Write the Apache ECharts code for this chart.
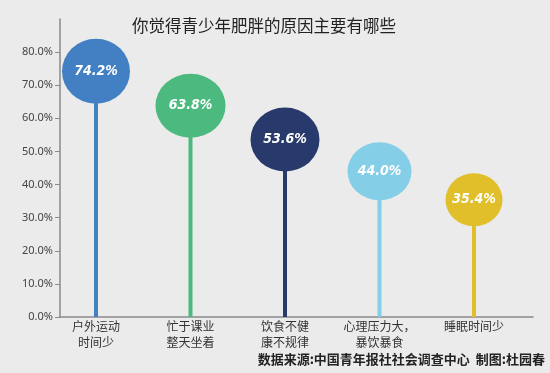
<!DOCTYPE html>
<html><head><meta charset="utf-8">
<script src="https://cdn.jsdelivr.net/npm/echarts@6/dist/echarts.min.js"></script>
<style>html,body{margin:0;padding:0;background:#ebebeb}#c{width:550px;height:373px}</style>
</head><body><div id="c"></div>
<script>
const categories = ['户外运动\n时间少', '忙于课业\n整天坐着', '饮食不健\n康不规律', '心理压力大，\n暴饮暴食', '睡眠时间少'];
const values = [74.2, 63.8, 53.6, 44.0, 35.4];
const yTicks = [0, 10, 20, 30, 40, 50, 60, 70, 80];
const titleText = '你觉得青少年肥胖的原因主要有哪些';
const sourceText = '数据来源:中国青年报社社会调查中心  制图:杜园春';

const colors = ['#4280c3', '#4cb97e', '#283a6b', '#84cee7', '#e0bf2a'];
const bubbleSizes = [[68, 65], [70, 64], [69, 64], [64, 58], [57, 53]];

const chart = echarts.init(document.getElementById('c'));
chart.setOption({
  backgroundColor: '#ebebeb',
  animation: false,
  title: [{
    text: titleText, left: 259, top: 12, textAlign: 'center',
    textStyle: {fontFamily: 'Noto Sans CJK SC', fontSize: 16.5, fontWeight: 'normal', color: '#222'}
  }],
  graphic: [{
    type: 'text', right: 5, top: 353,
    style: {text: sourceText, font: 'bold 13px "Noto Sans CJK SC"', fill: '#222'}
  }],
  grid: [
    {left: 60, right: 17, top: 19, bottom: 56},
    {left: 48.75, right: 28.75, top: 19, bottom: 56}
  ],
  xAxis: [
    {gridIndex: 0, type: 'value', min: 0, max: 1, axisLine: {show: true, lineStyle: {color: '#8a8a8a', width: 1.5}},
     axisTick: {show: false}, axisLabel: {show: false}, splitLine: {show: false}},
    {gridIndex: 1, type: 'category', data: categories,
     axisLine: {show: false}, axisTick: {show: false},
     axisLabel: {margin: 2, fontSize: 12, lineHeight: 15.5, color: '#333', fontFamily: 'Noto Sans CJK SC', interval: 0}}
  ],
  yAxis: [
    {gridIndex: 0, type: 'value', min: 0, max: 90, interval: 10,
     axisLine: {show: true, lineStyle: {color: '#8a8a8a', width: 1.5}},
     axisTick: {show: true, length: 5, lineStyle: {color: '#8a8a8a'}, customValues: yTicks},
     axisLabel: {customValues: yTicks, formatter: v => v.toFixed(1) + '%', fontSize: 11, color: '#444', margin: 7, fontFamily: 'Noto Sans'},
     splitLine: {show: false}},
    {gridIndex: 1, type: 'value', min: 0, max: 90, show: false}
  ],
  series: [
    {type: 'bar', xAxisIndex: 1, yAxisIndex: 1, barWidth: 4, z: 1,
     data: values.map((v, i) => ({value: v, itemStyle: {color: colors[i]}}))},
    {type: 'scatter', xAxisIndex: 1, yAxisIndex: 1, z: 3, symbol: 'circle',
     data: values.map((v, i) => ({value: v, symbolSize: bubbleSizes[i], itemStyle: {color: colors[i], opacity: 1}})),
     label: {show: true, position: 'inside', formatter: p => p.value.toFixed(1) + '%',
       color: '#fff', fontStyle: 'italic', fontWeight: 'bold', fontSize: 14, fontFamily: '"DejaVu Sans Condensed", "DejaVu Sans"'}}
  ]
});
</script></body></html>
